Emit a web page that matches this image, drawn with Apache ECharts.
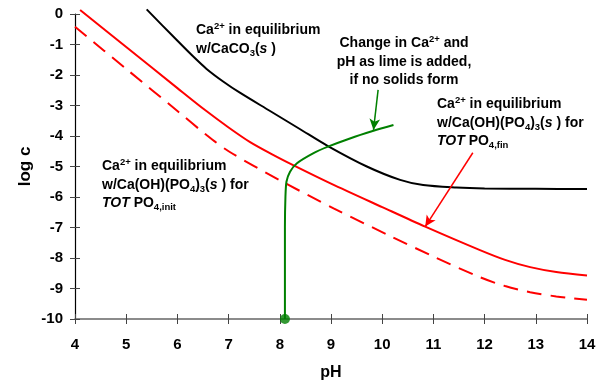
<!DOCTYPE html>
<html>
<head>
<meta charset="utf-8">
<script src="https://cdn.jsdelivr.net/npm/echarts@6/dist/echarts.min.js"></script>
<style>
  html, body { margin: 0; padding: 0; background: #fff; }
  #chart { width: 597px; height: 381px; }
</style>
</head>
<body>
<div id="chart"></div>
<script>
var xTicks = [4, 5, 6, 7, 8, 9, 10, 11, 12, 13, 14];
var yTicks = [0, -1, -2, -3, -4, -5, -6, -7, -8, -9, -10];

// [pH, log c]
var caco3 = [
  [5.4, 0.15], [5.92, -0.74], [6.3, -1.38], [6.57, -1.8], [6.9, -2.22],
  [7.22, -2.58], [7.81, -3.18], [8.39, -3.77], [8.94, -4.33], [9.7, -5.0],
  [10.35, -5.44], [10.8, -5.61], [11.45, -5.69], [12, -5.72], [13, -5.73], [14, -5.74]
];
var apatiteFin = [
  [4.1, 0.13], [5, -1.08], [6, -2.43], [6.54, -3.15], [7, -3.72], [7.42, -4.2],
  [7.85, -4.6], [8.28, -4.97], [9, -5.56], [10, -6.33], [10.84, -6.97],
  [11.91, -7.74], [12.4, -8.06], [12.89, -8.3], [13.4, -8.46], [14, -8.57]
];
var apatiteInit = [
  [4, -0.42], [5, -1.8], [6, -3.18], [6.57, -3.97], [7, -4.5], [8, -5.45],
  [9.05, -6.37], [10.12, -7.25], [11, -7.95], [11.91, -8.63], [12.4, -8.92],
  [12.89, -9.12], [13.4, -9.26], [14, -9.37]
];
var limePath = [
  [8.1, -10], [8.1, -7], [8.11, -6], [8.13, -5.5], [8.2, -5.17], [8.33, -4.9],
  [8.65, -4.57], [8.94, -4.35], [9.37, -4.08], [9.83, -3.83], [10.22, -3.64]
];
var limeStart = [[8.1, -10]];

// annotation arrows, [from, to] in data units
var greenArrow = [[9.92, -2.49], [9.83, -3.8]];
var redArrow = [[11.77, -4.55], [10.84, -6.97]];

var chart = echarts.init(document.getElementById('chart'));

var font = 'Liberation Sans, Arial, sans-serif';
var rich = {
  b: { fontFamily: font, fontWeight: 'bold', fontSize: 14, lineHeight: 18.5, fill: '#000' },
  i: { fontFamily: font, fontWeight: 'bold', fontStyle: 'italic', fontSize: 14, lineHeight: 18.5, fill: '#000' },
  sup: { fontFamily: font, fontWeight: 'bold', fontSize: 9.5, lineHeight: 10, verticalAlign: 'top', fill: '#000' },
  sub: { fontFamily: font, fontWeight: 'bold', fontSize: 9.5, lineHeight: 10, verticalAlign: 'bottom', fill: '#000' }
};

function label(x, y, text, align) {
  return {
    type: 'text',
    x: x,
    y: y,
    silent: true,
    style: {
      text: text,
      rich: rich,
      align: align || 'left',
      verticalAlign: 'top',
      font: 'bold 14px ' + font
    }
  };
}

function arrow(pts, color) {
  return {
    silent: true,
    symbol: ['none', 'arrow'],
    symbolSize: [8, 11],
    label: { show: false },
    lineStyle: { color: color, width: 1.5, type: 'solid' },
    data: [[{ coord: pts[0] }, { coord: pts[1] }]]
  };
}

var tickInterval = 1;
var tickLabelStyle = { fontFamily: font, fontWeight: 'bold', fontSize: 15, color: '#000' };

var option = {
  animation: false,
  grid: { left: 75, right: 10, top: 14, bottom: 62, outerBoundsMode: 'none', containLabel: false },
  xAxis: [{
    type: 'value', min: 4, max: 14, interval: tickInterval, position: 'bottom',
    name: 'pH', nameLocation: 'middle', nameGap: 46, nameMoveOverlap: false,
    nameTextStyle: Object.assign({}, tickLabelStyle, { fontSize: 16 }),
    axisLine: { onZero: false, lineStyle: { color: '#666', width: 1.5 } },
    axisTick: { length: 5, lineStyle: { color: '#444' } },
    axisLabel: Object.assign({ margin: 18, formatter: function (v) { return xTicks.indexOf(v) >= 0 ? v : ''; } }, tickLabelStyle),
    splitLine: { show: false }
  }, {
    type: 'value', min: 4, max: 14, interval: tickInterval, position: 'bottom',
    axisLine: { show: false, onZero: false },
    axisTick: { inside: true, length: 5, lineStyle: { color: '#444' } },
    axisLabel: { show: false },
    splitLine: { show: false }
  }],
  yAxis: [{
    type: 'value', min: -10, max: 0, interval: tickInterval,
    name: 'log c', nameLocation: 'middle', nameGap: 41, nameRotate: 90, nameMoveOverlap: false,
    nameTextStyle: Object.assign({}, tickLabelStyle, { fontSize: 17 }),
    axisLine: { show: true, onZero: false, lineStyle: { color: '#000', width: 1.2 } },
    axisTick: { length: 5, lineStyle: { color: '#444' } },
    axisLabel: Object.assign({ margin: 12, formatter: function (v) { return yTicks.indexOf(v) >= 0 ? v : ''; } }, tickLabelStyle),
    splitLine: { show: false }
  }, {
    type: 'value', min: -10, max: 0, interval: tickInterval, position: 'left',
    axisLine: { show: false, onZero: false },
    axisTick: { inside: true, length: 5, lineStyle: { color: '#444' } },
    axisLabel: { show: false },
    splitLine: { show: false }
  }],
  series: [{
    type: 'line', data: caco3, smooth: 0.3, showSymbol: false, clip: false,
    lineStyle: { color: '#000', width: 2 }
  }, {
    type: 'line', data: apatiteFin, smooth: 0.3, showSymbol: false, clip: false,
    lineStyle: { color: '#ff0000', width: 2 },
    markLine: arrow(redArrow, '#ff0000')
  }, {
    type: 'line', data: apatiteInit, smooth: 0.3, showSymbol: false, clip: false,
    lineStyle: { color: '#ff0000', width: 2, type: [15, 9] }
  }, {
    type: 'line', data: limePath, smooth: 0.25, showSymbol: false, clip: false,
    lineStyle: { color: '#008000', width: 2 },
    markLine: arrow(greenArrow, '#008000')
  }, {
    type: 'scatter', data: limeStart, symbolSize: 10, clip: false,
    itemStyle: { color: '#008000' }
  }],
  graphic: [
    label(196, 21, '{b|Ca}{sup|2+}{b| in equilibrium}\n{b|w/CaCO}{sub|3}{b|(}{i|s}{b| )}'),
    label(404, 34, '{b|Change in Ca}{sup|2+}{b| and}\n{b|pH as lime is added,}\n{b|if no solids form}', 'center'),
    label(437, 95, '{b|Ca}{sup|2+}{b| in equilibrium}\n{b|w/Ca(OH)(PO}{sub|4}{b|)}{sub|3}{b|(}{i|s}{b| ) for}\n{i|TOT}{b| PO}{sub|4,fin}'),
    label(102, 157, '{b|Ca}{sup|2+}{b| in equilibrium}\n{b|w/Ca(OH)(PO}{sub|4}{b|)}{sub|3}{b|(}{i|s}{b| ) for}\n{i|TOT}{b| PO}{sub|4,init}')
  ]
};

chart.setOption(option);
window.onresize = function () { chart.resize(); };
</script>
</body>
</html>
